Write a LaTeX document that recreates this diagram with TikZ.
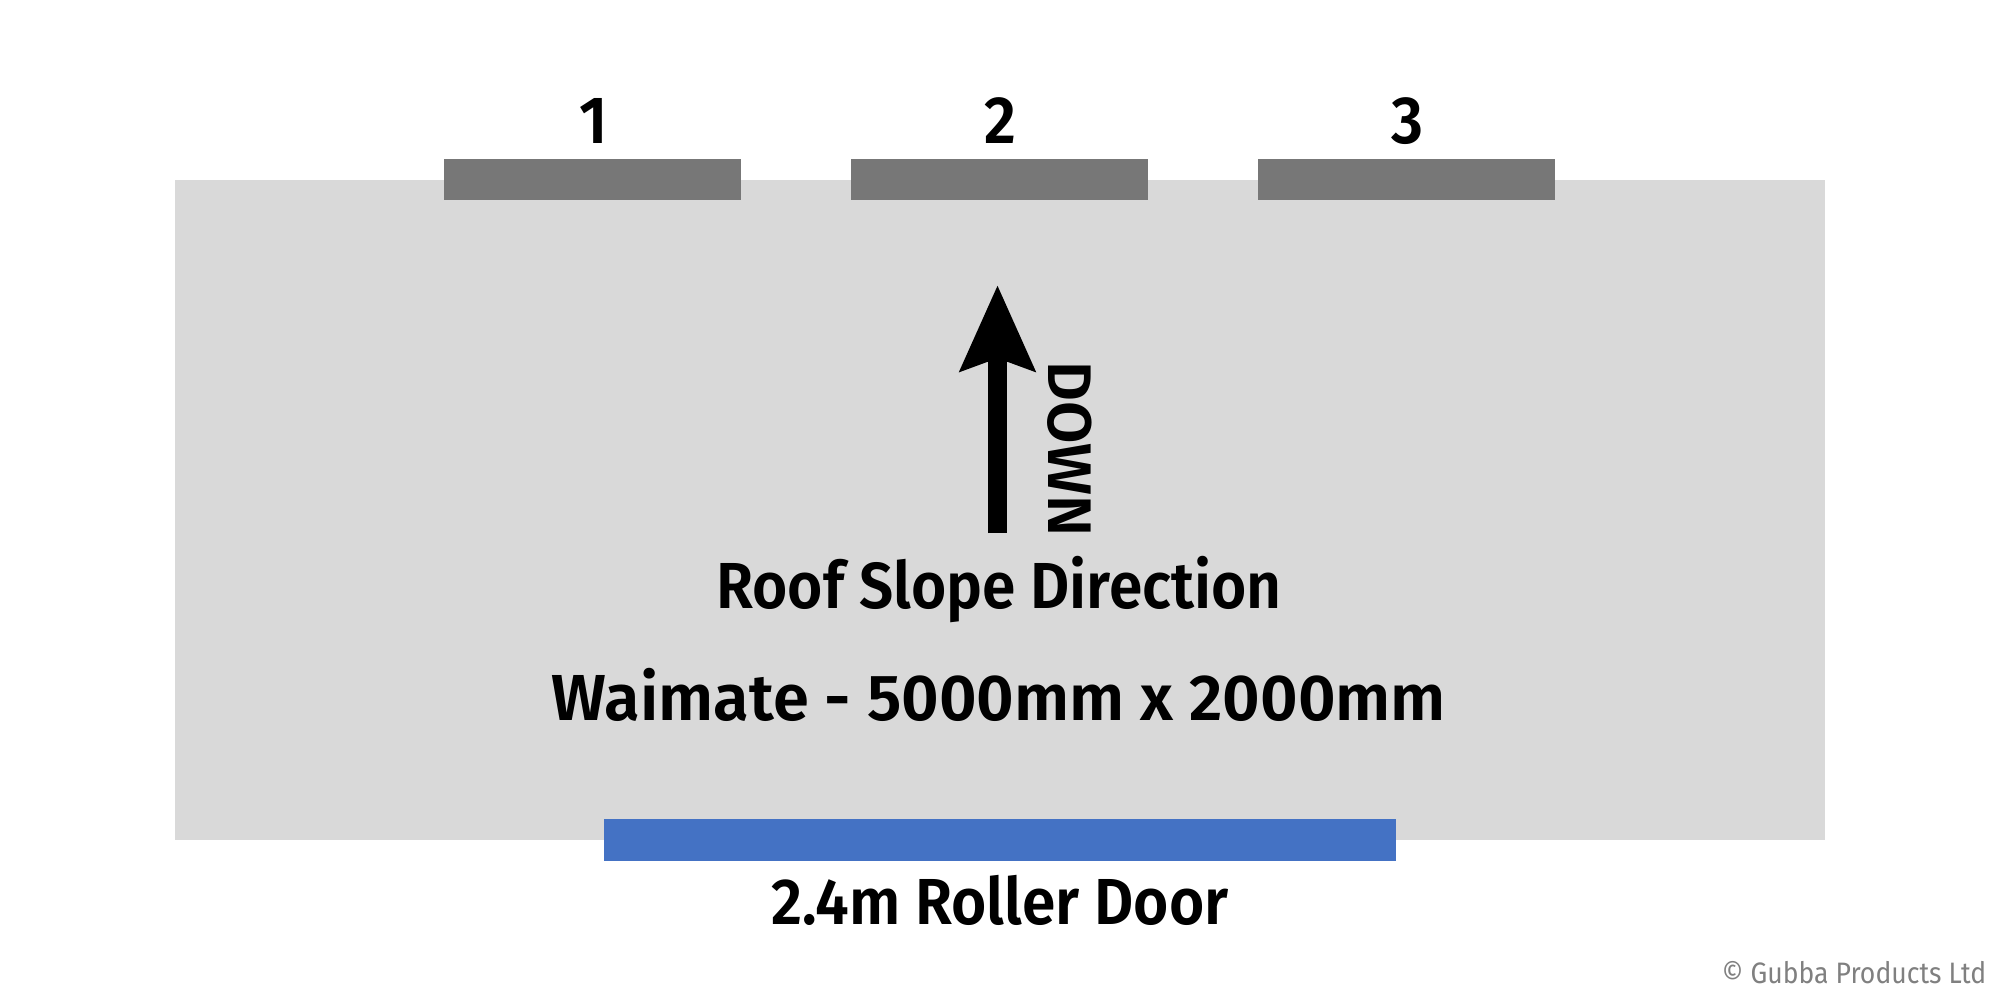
\documentclass[tikz,border=0pt]{standalone}
\usepackage{fontspec}
\IfFontExistsTF{Fira Sans SemiBold}
  {\newfontfamily\labelfont{Fira Sans SemiBold}[FakeStretch=0.93]
   \newfontfamily\sizefont{Fira Sans SemiBold}}
  {\newfontfamily\labelfont{Fira Sans Medium}[FakeStretch=0.94]
   \newfontfamily\sizefont{Fira Sans Medium}}
\newfontfamily\notefont{Fira Sans}[FakeStretch=0.9]
\usetikzlibrary{arrows.meta}

\definecolor{roofgrey}{HTML}{D9D9D9}
\definecolor{wingrey}{HTML}{777777}
\definecolor{doorblue}{HTML}{4472C4}
\definecolor{notegrey}{HTML}{808080}

\begin{document}
\begin{tikzpicture}[x=0.01cm, y=-0.01cm,
  win/.style={fill=wingrey, minimum width=2.97cm, minimum height=0.41cm, inner sep=0},
  door/.style={fill=doorblue, minimum width=7.92cm, minimum height=0.42cm, inner sep=0},
  numlbl/.style={anchor=base, inner sep=0, font=\labelfont\fontsize{19}{19}\selectfont},
  biglbl/.style={anchor=base, inner sep=0, font=\labelfont\fontsize{18.5}{18.5}\selectfont},
  slope/.style={line width=0.19cm, -{Stealth[length=0.85cm, width=0.73cm, inset=0.12cm]}}]

\useasboundingbox (0,0) rectangle (2000,1000);

% roof
\fill[roofgrey] (175,180) rectangle (1825,840);

% windows
\node[win] (w1) at (592.5,179.5) {};
\node[win] (w2) at (999.5,179.5) {};
\node[win] (w3) at (1406.5,179.5) {};
\node[numlbl] (n1) at (594,143) {1};
\node[numlbl] (n2) at (1000,143) {2};
\node[numlbl] (n3) at (1407,143) {3};

% slope arrow
\coordinate (tail) at (997.5,533);
\coordinate (tip) at (997.5,285);
\draw[slope] (tail) -- (tip);
\node[anchor=base, inner sep=0, rotate=-90, font=\sizefont\fontsize{17.5}{17.5}\selectfont] (down) at (1048,449) {DOWN};

\node[biglbl] (slopetxt) at (999,608) {Roof Slope Direction};
\node[biglbl, font=\sizefont\fontsize{18.5}{18.5}\selectfont] (size) at (999,720) {Waimate - 5000mm x 2000mm};

% door
\node[door] (door) at (1000,840) {};
\node[biglbl] (doortxt) at (1000,924) {2.4m Roller Door};

\node[anchor=base east, inner sep=0, text=notegrey, font=\notefont\fontsize{8.4}{8.4}\selectfont] (copy) at (1987,983) {© Gubba Products Ltd};

\end{tikzpicture}
\end{document}
